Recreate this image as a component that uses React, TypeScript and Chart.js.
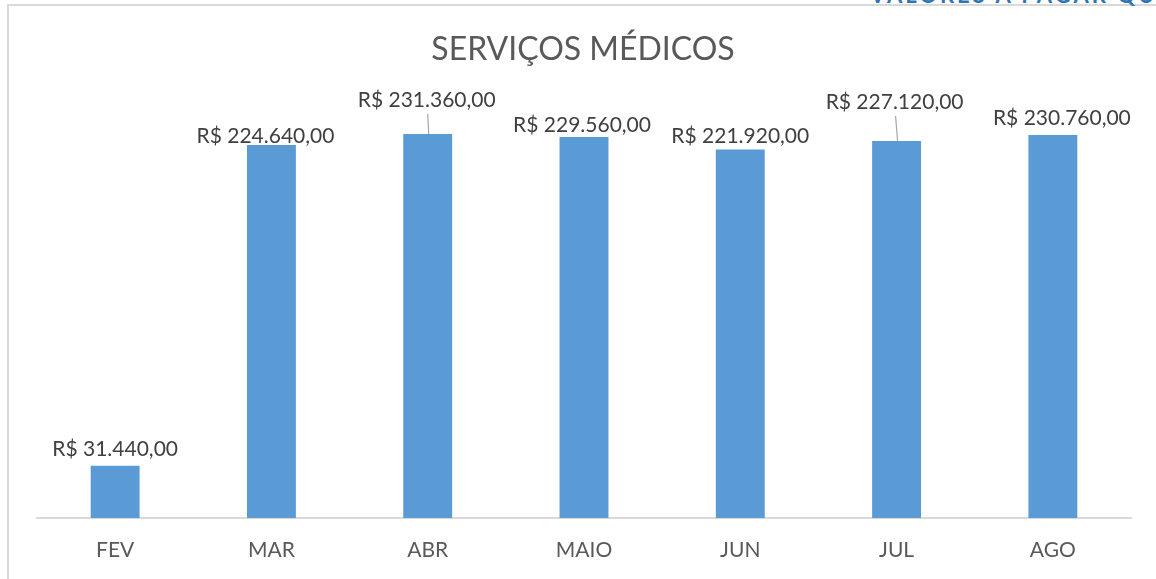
import React, { useEffect, useRef } from "react";
import { Chart, registerables } from "chart.js";

Chart.register(...registerables);

const categories = ["FEV", "MAR", "ABR", "MAIO", "JUN", "JUL", "AGO"];
const values = [31440, 224640, 231360, 229560, 221920, 227120, 230760];
const chartTitle = "SERVIÇOS MÉDICOS";
const cutHeading = "VALORES A PAGAR QUE SE R";

// label placement styles (pixel offsets above bar top, horizontal shift, leader line)
const labelLift = [17, 9, 34, 12, 13, 39, 17];
const labelShift = [0, -6, -1, -2, 0, -2, 9];
const labelLeader = [false, false, true, false, false, true, false];

const fmt = (v: number) => {
  const s = Math.round(v).toString().replace(/\B(?=(\d{3})+(?!\d))/g, ".");
  return "R$ " + s + ",00";
};

const FONT = "Lato, 'Open Sans', sans-serif";

const labelPlugin = {
  id: "valueLabels",
  afterDatasetsDraw(chart: any) {
    const ctx = chart.ctx;
    const meta = chart.getDatasetMeta(0);
    ctx.save();
    // title
    ctx.fillStyle = "#595959";
    ctx.font = `32px ${FONT}`;
    ctx.textAlign = "center";
    ctx.textBaseline = "middle";
    ctx.fillText(chartTitle, 583, 50);
    ctx.font = `21px ${FONT}`;
    meta.data.forEach((bar: any, i: number) => {
      const x = bar.x + labelShift[i];
      const y = bar.y - labelLift[i];
      if (labelLeader[i]) {
        ctx.strokeStyle = "#a6a6a6";
        ctx.lineWidth = 1.2;
        ctx.beginPath();
        ctx.moveTo(x + 1, y + 14);
        ctx.lineTo(bar.x + 1, bar.y);
        ctx.stroke();
      }
      ctx.fillStyle = "#404040";
      ctx.fillText(fmt(values[i]), x, y);
    });
    ctx.restore();
  },
};

export default function App() {
  const ref = useRef<HTMLCanvasElement>(null);
  useEffect(() => {
    document.body.style.margin = "0";
    const chart = new Chart(ref.current!, {
      type: "bar",
      data: {
        labels: categories,
        datasets: [
          {
            data: values,
            backgroundColor: "#5B9BD5",
            categoryPercentage: 1,
            barPercentage: 0.313,
          },
        ],
      },
      options: {
        responsive: false,
        animation: false,
        layout: { padding: { left: 37, right: 25, top: 103, bottom: 0 } },
        plugins: { legend: { display: false }, title: { display: false }, tooltip: { enabled: false } },
        scales: {
          x: {
            grid: { display: false, drawTicks: false },
            border: { color: "#d9d9d9", width: 2 },
            ticks: { color: "#595959", font: { family: FONT, size: 21 }, padding: 20 },
            afterFit: (scale: any) => {
              scale.height = 61;
            },
          },
          y: { display: false, min: 0, max: 250000 },
        },
      },
      plugins: [labelPlugin],
    });
    return () => chart.destroy();
  }, []);
  return (
    <div style={{ position: "relative", width: 1156, height: 579, overflow: "hidden", background: "#fff" }}>
      <div
        style={{
          position: "absolute",
          left: 7,
          top: 4,
          width: 1200,
          height: 620,
          border: "2px solid #d9d9d9",
          boxSizing: "border-box",
        }}
      />
      <div
        style={{
          position: "absolute",
          left: 870,
          top: -16,
          lineHeight: 1,
          whiteSpace: "nowrap",
          color: "#2E75B6",
          fontFamily: FONT,
          fontWeight: 700,
          fontSize: 22,
          letterSpacing: 3,
        }}
      >
        {cutHeading}
      </div>
      <canvas ref={ref} width={1156} height={579} style={{ position: "absolute", left: 0, top: 0 }} />
    </div>
  );
}
